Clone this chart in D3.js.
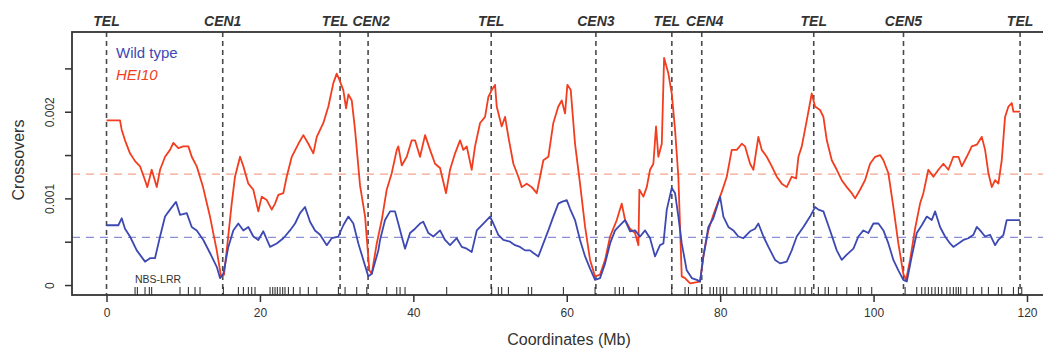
<!DOCTYPE html>
<html>
<head>
<meta charset="utf-8">
<script src="https://cdn.jsdelivr.net/npm/d3@7"></script>
<style>
  body { margin: 0; background: #fff; }
  svg { display: block; font-family: "Liberation Sans", Arial, Helvetica, sans-serif; }
</style>
</head>
<body>
<svg id="chart" width="1043" height="349"></svg>
<script>
'use strict';

// data (positions in Mb, crossover values in units of 1e-3)
const hei10Pos = [0, 1.76, 1.98, 2.41, 3.06, 3.72, 4.37, 5.02, 5.32, 5.89, 6.55, 6.98, 7.63, 8.28, 8.71, 9.36, 10.01, 10.67, 11.11, 11.76, 12.58, 13.49, 14.37, 14.93, 15.32, 15.67, 16.32, 16.75, 17.41, 17.84, 18.49, 19.14, 19.79, 20.23, 20.89, 21.54, 21.97, 22.40, 23.05, 23.49, 24.15, 25.01, 25.66, 26.31, 26.96, 27.41, 28.27, 28.92, 29.57, 30.01, 30.35, 30.87, 31.23, 31.53, 31.97, 32.40, 33.05, 33.71, 34.26, 34.58, 35.23, 35.88, 36.53, 37.18, 37.84, 38.04, 38.49, 39.14, 39.79, 40.22, 40.87, 41.53, 42.18, 42.83, 43.48, 44.26, 44.78, 45.44, 46.09, 46.52, 46.96, 47.61, 48.04, 48.70, 49.35, 49.78, 50.22, 50.65, 50.87, 51.52, 51.96, 52.39, 53.04, 53.69, 54.13, 54.78, 55.43, 56.09, 56.52, 56.95, 57.60, 58.25, 58.90, 59.35, 59.78, 60.08, 60.52, 61.08, 61.73, 62.39, 63.04, 63.69, 64.34, 65.00, 65.65, 66.52, 67.17, 67.60, 68.25, 68.90, 69.34, 69.47, 69.99, 70.43, 70.86, 71.29, 71.64, 71.94, 72.39, 72.69, 73.25, 73.69, 74.12, 74.55, 74.99, 75.42, 76.08, 77.38, 77.81, 78.46, 79.11, 79.99, 80.42, 80.86, 81.51, 82.16, 82.82, 83.25, 83.90, 84.33, 84.98, 85.42, 86.07, 86.73, 87.38, 88.03, 88.68, 89.33, 89.90, 90.20, 90.64, 91.29, 91.94, 92.37, 93.02, 93.46, 93.90, 94.55, 95.20, 95.85, 96.51, 97.16, 97.59, 98.24, 98.89, 99.54, 100.20, 100.85, 101.28, 101.93, 102.58, 103.23, 103.88, 104.24, 104.76, 105.41, 106.06, 106.49, 107.14, 107.80, 108.45, 109.10, 109.75, 110.40, 111.06, 111.50, 112.15, 112.80, 113.46, 114.11, 114.54, 114.97, 115.41, 115.84, 116.27, 116.71, 117.14, 117.58, 118.02, 118.23, 119.10];
const hei10Val = [1.90, 1.90, 1.79, 1.67, 1.52, 1.43, 1.37, 1.21, 1.13, 1.33, 1.13, 1.33, 1.48, 1.56, 1.64, 1.58, 1.60, 1.60, 1.48, 1.37, 1.13, 0.79, 0.40, 0.10, 0.12, 0.40, 0.94, 1.25, 1.48, 1.37, 1.17, 1.10, 0.85, 1.02, 0.98, 0.87, 0.94, 1.04, 1.06, 1.25, 1.48, 1.63, 1.73, 1.63, 1.52, 1.71, 1.87, 2.06, 2.33, 2.44, 2.37, 2.25, 2.04, 2.20, 2.13, 1.79, 1.15, 0.79, 0.17, 0.13, 0.48, 0.75, 1.10, 1.29, 1.56, 1.60, 1.38, 1.48, 1.67, 1.67, 1.48, 1.73, 1.56, 1.40, 1.35, 1.06, 1.33, 1.52, 1.67, 1.56, 1.60, 1.33, 1.60, 1.87, 1.94, 2.17, 2.25, 2.31, 2.06, 1.83, 1.94, 1.71, 1.40, 1.25, 1.13, 1.17, 1.13, 1.06, 1.25, 1.44, 1.48, 1.87, 2.06, 2.13, 1.98, 2.31, 2.25, 1.63, 1.17, 0.67, 0.29, 0.10, 0.12, 0.29, 0.56, 0.75, 0.94, 0.75, 0.65, 0.60, 0.46, 1.10, 1.02, 1.13, 1.33, 1.40, 1.83, 1.48, 1.63, 2.62, 2.44, 2.21, 1.79, 1.25, 0.10, 0.08, 0.02, 0.04, 0.33, 0.63, 0.81, 1.02, 1.13, 1.25, 1.56, 1.56, 1.63, 1.60, 1.40, 1.33, 1.71, 1.56, 1.48, 1.37, 1.25, 1.17, 1.13, 1.25, 1.23, 1.48, 1.60, 1.90, 2.21, 2.06, 2.02, 1.94, 1.67, 1.44, 1.33, 1.21, 1.13, 1.06, 1.00, 1.10, 1.21, 1.40, 1.48, 1.50, 1.44, 1.29, 0.90, 0.48, 0.13, 0.06, 0.29, 0.65, 0.94, 1.06, 1.33, 1.25, 1.33, 1.40, 1.33, 1.48, 1.48, 1.37, 1.48, 1.60, 1.62, 1.71, 1.56, 1.29, 1.13, 1.21, 1.17, 1.44, 1.94, 2.06, 2.10, 2.00, 2.00];

const wtPos = [0, 1.54, 1.98, 2.41, 3.06, 3.94, 5.02, 5.67, 6.32, 6.98, 7.63, 8.28, 9.06, 9.58, 10.46, 11.11, 11.76, 12.62, 13.49, 14.37, 14.80, 15.23, 15.88, 16.53, 17.18, 17.84, 18.49, 19.14, 19.79, 20.44, 21.32, 22.19, 23.05, 23.92, 24.58, 25.23, 25.88, 26.53, 27.18, 27.84, 28.71, 29.36, 30.22, 30.87, 31.53, 32.18, 32.83, 33.48, 34.13, 34.58, 35.44, 35.66, 36.31, 36.96, 37.61, 38.04, 38.49, 38.92, 39.57, 40.22, 40.87, 41.30, 41.96, 42.61, 43.48, 44.13, 44.78, 45.66, 46.31, 46.96, 47.61, 48.27, 49.13, 50.00, 50.43, 51.08, 51.73, 52.61, 53.26, 53.91, 54.56, 55.22, 55.65, 56.30, 56.95, 57.60, 58.25, 58.90, 59.35, 60.00, 60.43, 61.08, 61.73, 62.39, 63.04, 63.69, 64.34, 65.00, 65.65, 66.30, 66.95, 67.60, 68.25, 68.90, 69.56, 70.21, 70.86, 71.51, 72.16, 72.60, 73.04, 73.69, 74.12, 74.55, 74.99, 75.64, 76.30, 76.95, 77.38, 77.81, 78.46, 79.11, 79.99, 80.42, 81.07, 81.72, 82.37, 83.03, 83.90, 84.55, 84.98, 85.64, 86.29, 87.16, 87.81, 88.68, 89.33, 89.98, 90.85, 91.72, 92.37, 92.80, 93.46, 94.33, 95.20, 95.85, 96.51, 97.37, 98.02, 98.67, 99.32, 99.98, 100.63, 101.28, 101.93, 102.58, 103.23, 103.88, 104.33, 104.98, 105.63, 106.28, 106.94, 107.59, 108.02, 108.67, 109.32, 109.97, 110.40, 111.06, 111.71, 112.36, 113.01, 113.46, 113.89, 114.54, 115.19, 115.84, 116.27, 116.93, 117.36, 118.02, 119.10];
const wtVal = [0.69, 0.69, 0.77, 0.65, 0.56, 0.40, 0.27, 0.31, 0.31, 0.56, 0.79, 0.87, 0.96, 0.81, 0.83, 0.67, 0.63, 0.52, 0.37, 0.21, 0.08, 0.13, 0.44, 0.63, 0.71, 0.63, 0.67, 0.56, 0.52, 0.62, 0.44, 0.48, 0.54, 0.63, 0.71, 0.83, 0.90, 0.73, 0.63, 0.58, 0.46, 0.54, 0.56, 0.69, 0.79, 0.71, 0.48, 0.29, 0.10, 0.13, 0.40, 0.52, 0.75, 0.85, 0.85, 0.71, 0.56, 0.42, 0.60, 0.65, 0.71, 0.73, 0.60, 0.56, 0.63, 0.52, 0.46, 0.54, 0.44, 0.42, 0.38, 0.63, 0.71, 0.79, 0.71, 0.58, 0.52, 0.50, 0.46, 0.44, 0.40, 0.40, 0.37, 0.33, 0.48, 0.63, 0.79, 0.94, 0.96, 0.98, 0.88, 0.75, 0.52, 0.33, 0.19, 0.06, 0.08, 0.25, 0.48, 0.63, 0.69, 0.75, 0.62, 0.63, 0.56, 0.63, 0.54, 0.33, 0.46, 0.48, 0.87, 1.12, 1.06, 0.79, 0.48, 0.17, 0.08, 0.06, 0.04, 0.33, 0.67, 0.77, 1.02, 0.79, 0.67, 0.63, 0.56, 0.54, 0.62, 0.65, 0.71, 0.56, 0.44, 0.29, 0.25, 0.27, 0.40, 0.56, 0.67, 0.79, 0.90, 0.87, 0.85, 0.63, 0.40, 0.29, 0.35, 0.42, 0.56, 0.63, 0.60, 0.71, 0.71, 0.63, 0.48, 0.29, 0.17, 0.06, 0.04, 0.33, 0.60, 0.69, 0.79, 0.75, 0.85, 0.67, 0.56, 0.48, 0.44, 0.48, 0.52, 0.54, 0.58, 0.67, 0.63, 0.56, 0.58, 0.46, 0.52, 0.58, 0.75, 0.75, 0.75];

const hei10Mean = 1.28;
const wtMean = 0.55;

const markerPos = [0, 15.15, 30.45, 34.1, 50.15, 63.8, 73.7, 77.6, 92.2, 103.9, 119.1];
const markerLabels = ['TEL', 'CEN1', 'TEL', 'CEN2', 'TEL', 'CEN3', 'TEL', 'CEN4', 'TEL', 'CEN5', 'TEL'];

const nbsLrr = [3.72, 4.02, 5.02, 5.58, 5.89, 9.58, 10.67, 11.54, 12.19, 15.23, 17.19, 17.84, 18.49, 18.93, 19.36, 21.32, 21.67, 21.97, 22.27, 22.62, 22.97, 23.27, 23.71, 24.36, 25.23, 26.31, 27.41, 30.23, 31.10, 32.62, 33.93, 36.53, 37.84, 38.27, 38.92, 44.35, 50.22, 51.08, 51.52, 52.39, 54.99, 55.43, 59.56, 63.69, 66.30, 66.86, 67.38, 69.33, 73.69, 75.42, 75.86, 76.95, 77.60, 78.68, 79.12, 79.55, 79.99, 80.42, 80.86, 81.94, 83.03, 83.47, 84.12, 84.55, 85.20, 86.07, 86.73, 87.38, 89.77, 90.42, 91.07, 91.94, 92.80, 93.68, 94.11, 95.20, 96.51, 98.02, 98.33, 99.76, 104.11, 105.63, 106.28, 106.71, 107.14, 107.59, 108.02, 108.45, 108.89, 109.54, 109.97, 110.40, 110.76, 111.06, 111.37, 112.15, 113.01, 114.11, 114.97, 116.27, 116.71, 118.23, 118.88, 119.32];

const xTicks = [0, 20, 40, 60, 80, 100, 120];
const yTicks = [0, 0.0005, 0.001, 0.0015, 0.002, 0.0025];
const yTickLabels = {0: '0', 0.001: '0.001', 0.002: '0.002'};

const BLUE = '#3d49b2';
const RED = '#f23d1f';

// layout
const plot = {left: 72, top: 32, bottom: 295, right: 1050};

const svg = d3.select('#chart');

const x = d3.scaleLinear().domain([-4.5, 123]).range([plot.left, plot.right]);
const y = d3.scaleLinear().domain([-0.000115, 0.00292]).range([plot.bottom, plot.top]);

const toPoints = (pos, val) => pos.map((p, i) => [p, val[i] * 1e-3]);

// nudge labels of markers that sit close together so they don't collide
const labelNudge = (d, i) => {
	const prev = markerPos[i - 1], next = markerPos[i + 1];
	if (next !== undefined && next - d < 5) return -5;
	if (prev !== undefined && d - prev < 5) return 3;
	return 0;
};

// centromere / telomere markers
svg.append('g')
	.selectAll('line')
	.data(markerPos)
	.join('line')
	.attr('x1', d => x(d)).attr('x2', d => x(d))
	.attr('y1', plot.top).attr('y2', plot.bottom)
	.attr('stroke', '#4a4a4a')
	.attr('stroke-width', 1.6)
	.attr('stroke-dasharray', '5,4');

svg.append('g')
	.selectAll('text')
	.data(markerPos)
	.join('text')
	.attr('x', (d, i) => x(d) + labelNudge(d, i))
	.attr('y', 26)
	.attr('text-anchor', 'middle')
	.attr('font-size', 14)
	.attr('font-weight', 'bold')
	.attr('font-style', 'italic')
	.attr('fill', '#333')
	.text((d, i) => markerLabels[i]);

// genome-wide means
[[hei10Mean, '#f6a48c'], [wtMean, '#8a8fd6']].forEach(([m, c]) => {
	svg.append('line')
		.attr('x1', plot.left).attr('x2', plot.right)
		.attr('y1', y(m * 1e-3)).attr('y2', y(m * 1e-3))
		.attr('stroke', c)
		.attr('stroke-width', 1.4)
		.attr('stroke-dasharray', '8,6');
});

// NBS-LRR rug
svg.append('g')
	.selectAll('line')
	.data(nbsLrr)
	.join('line')
	.attr('x1', d => x(d)).attr('x2', d => x(d))
	.attr('y1', plot.bottom - 8).attr('y2', plot.bottom)
	.attr('stroke', '#222')
	.attr('stroke-width', 1);

svg.append('text')
	.attr('x', 135).attr('y', 283)
	.attr('font-size', 10.5)
	.attr('fill', '#333')
	.text('NBS-LRR');

// series
const line = d3.line().x(d => x(d[0])).y(d => y(d[1]));

svg.append('path')
	.datum(toPoints(hei10Pos, hei10Val))
	.attr('d', line)
	.attr('fill', 'none')
	.attr('stroke', RED)
	.attr('stroke-width', 1.8)
	.attr('stroke-linejoin', 'round');

svg.append('path')
	.datum(toPoints(wtPos, wtVal))
	.attr('d', line)
	.attr('fill', 'none')
	.attr('stroke', BLUE)
	.attr('stroke-width', 1.8)
	.attr('stroke-linejoin', 'round');

// frame
svg.append('rect')
	.attr('x', plot.left).attr('y', plot.top)
	.attr('width', plot.right - plot.left).attr('height', plot.bottom - plot.top)
	.attr('fill', 'none')
	.attr('stroke', '#333')
	.attr('stroke-width', 1.8);

// axes
const xAxis = svg.append('g')
	.attr('transform', `translate(0,${plot.bottom})`)
	.call(d3.axisBottom(x).tickValues(xTicks).tickSize(7).tickPadding(6));
const yAxis = svg.append('g')
	.attr('transform', `translate(${plot.left},0)`)
	.call(d3.axisLeft(y).tickValues(yTicks).tickSize(7).tickFormat(d => yTickLabels[d] || ''));

[xAxis, yAxis].forEach(g => {
	g.select('.domain').remove();
	g.selectAll('line').attr('stroke', '#333').attr('stroke-width', 1.5);
	g.selectAll('text').attr('font-size', 12).attr('fill', '#333')
		.attr('font-family', '"Liberation Sans", Arial, sans-serif');
});

yAxis.selectAll('text')
	.attr('transform', 'rotate(-90)')
	.attr('x', 0).attr('dy', 0)
	.attr('y', -18)
	.attr('text-anchor', 'middle');

// axis titles
svg.append('text')
	.attr('x', 569).attr('y', 345)
	.attr('text-anchor', 'middle')
	.attr('font-size', 16)
	.attr('fill', '#333')
	.text('Coordinates (Mb)');

svg.append('text')
	.attr('transform', 'translate(24,160) rotate(-90)')
	.attr('text-anchor', 'middle')
	.attr('font-size', 16)
	.attr('fill', '#333')
	.text('Crossovers');

// legend
svg.append('text')
	.attr('x', 116).attr('y', 58)
	.attr('font-size', 15)
	.attr('fill', BLUE)
	.text('Wild type');

svg.append('text')
	.attr('x', 116).attr('y', 80)
	.attr('font-size', 15)
	.attr('font-style', 'italic')
	.attr('fill', RED)
	.text('HEI10');
</script>
</body>
</html>
